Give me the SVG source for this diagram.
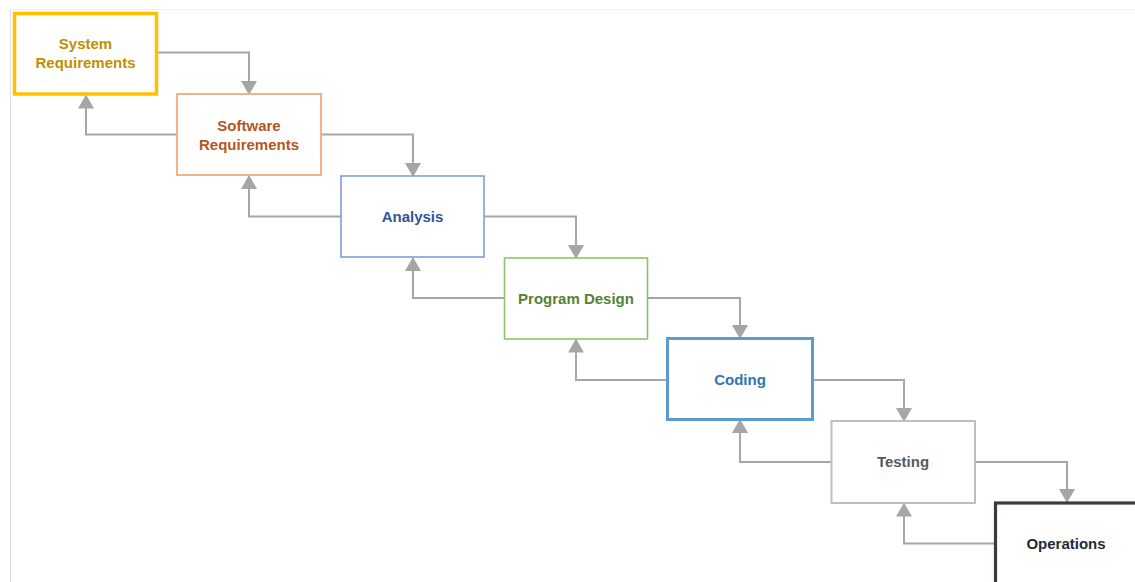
<svg xmlns="http://www.w3.org/2000/svg" width="1135" height="582" viewBox="0 0 1135 582">
<style>
.lbl{font-family:"Liberation Sans",Arial,sans-serif;font-weight:bold;font-size:15px;text-anchor:middle}
.box{fill:#ffffff}
.con{fill:none;stroke:#A6A6A6;stroke-width:2;marker-end:url(#ah)}
</style>
<defs>
<marker id="ah" markerUnits="userSpaceOnUse" markerWidth="16" markerHeight="16" viewBox="0 0 14 16" refX="13" refY="8" orient="auto">
<path d="M0,0 L14,8 L0,16 z" fill="#A6A6A6"/>
</marker>
</defs>
<rect width="1135" height="582" fill="#ffffff"/>
<line x1="10.5" y1="9" x2="10.5" y2="582" stroke="#DCDCDC" stroke-width="1"/>
<line x1="10" y1="9.5" x2="1135" y2="9.5" stroke="#F0F0F0" stroke-width="1"/>

<g id="connectors">
<path class="con" d="M158,52.5 H249 V94"/>
<path class="con" d="M177,134.5 H86 V95.5"/>
<path class="con" d="M321,134.5 H413 V176"/>
<path class="con" d="M341,216.5 H249 V176"/>
<path class="con" d="M484,216.5 H576 V258"/>
<path class="con" d="M504,298 H413 V258"/>
<path class="con" d="M648,298 H740 V338"/>
<path class="con" d="M668,380 H576 V339.5"/>
<path class="con" d="M812,380 H904 V421"/>
<path class="con" d="M831,462 H740 V420"/>
<path class="con" d="M975,462 H1067 V502"/>
<path class="con" d="M995,543.5 H904 V503.5"/>
</g>

<g id="system-requirements">
<rect class="box" x="14.5" y="13.5" width="142" height="80.5" stroke="#FFC000" stroke-width="3.5"/>
<text class="lbl" x="85.5" y="48.5" fill="#BF9000">System</text>
<text class="lbl" x="85.5" y="67.5" fill="#BF9000">Requirements</text>
</g>

<g id="software-requirements">
<rect class="box" x="177" y="94" width="144" height="81" stroke="#F4B183" stroke-width="2"/>
<text class="lbl" x="249" y="131" fill="#B4561E">Software</text>
<text class="lbl" x="249" y="150" fill="#B4561E">Requirements</text>
</g>

<g id="analysis">
<rect class="box" x="341" y="176" width="143" height="81" stroke="#7F9FD9" stroke-width="1.6"/>
<text class="lbl" x="412.5" y="222" fill="#2F5597">Analysis</text>
</g>

<g id="program-design">
<rect class="box" x="504.5" y="258" width="143" height="81" stroke="#8DC36A" stroke-width="1.6"/>
<text class="lbl" x="576" y="303.5" fill="#548235">Program Design</text>
</g>

<g id="coding">
<rect class="box" x="667.5" y="338.5" width="145" height="81" stroke="#5B9BD5" stroke-width="3"/>
<text class="lbl" x="740" y="385" fill="#2E75B6">Coding</text>
</g>

<g id="testing">
<rect class="box" x="831.5" y="421" width="143.5" height="82" stroke="#BFBFBF" stroke-width="2"/>
<text class="lbl" x="903" y="467" fill="#595966">Testing</text>
</g>

<g id="operations">
<rect class="box" x="995.5" y="503" width="150" height="100" stroke="#3F3A36" stroke-width="3.2"/>
<text class="lbl" x="1066" y="548.5" fill="#222A35">Operations</text>
</g>
</svg>
